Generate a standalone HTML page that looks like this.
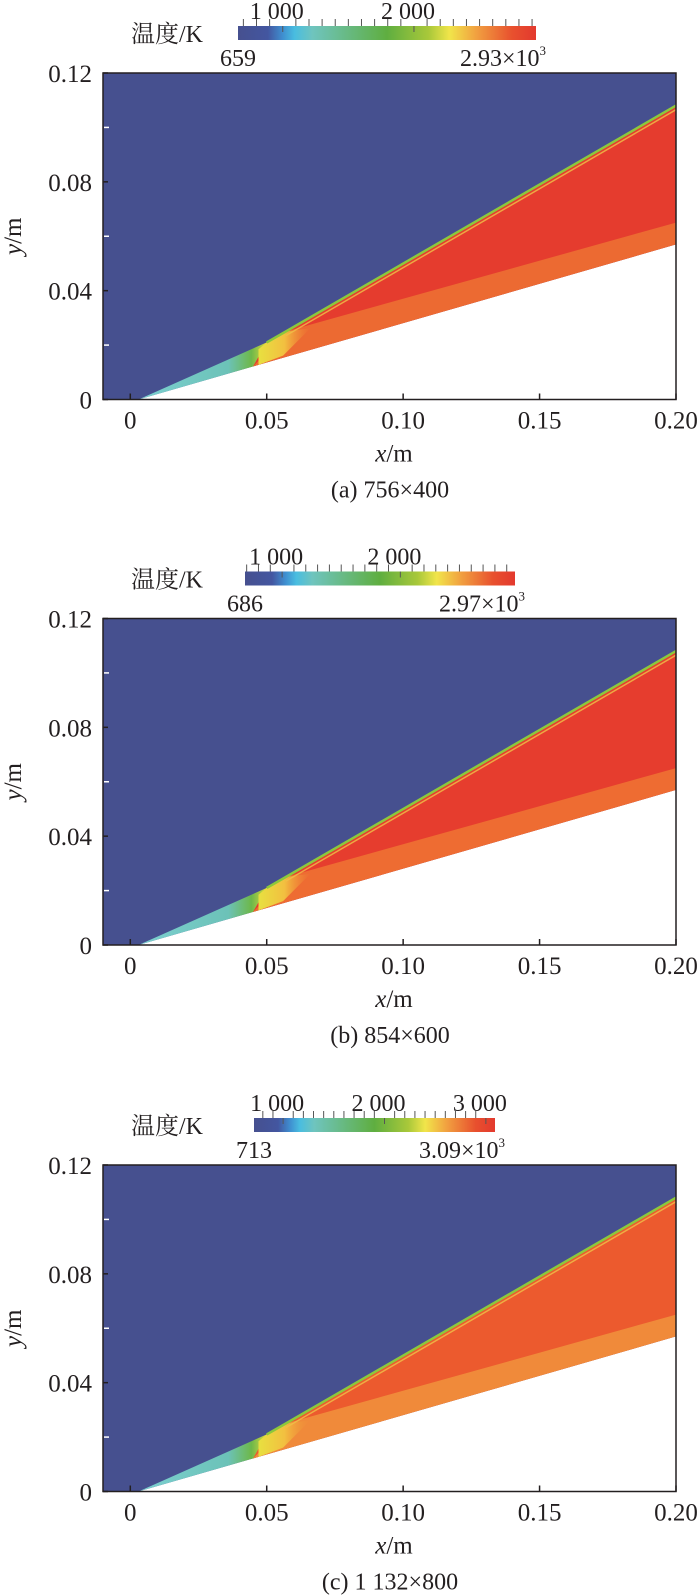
<!DOCTYPE html>
<html><head><meta charset="utf-8"><style>
html,body{margin:0;padding:0;background:#fff;}
svg{display:block;}
text{font-family:"Liberation Serif","Noto Serif CJK SC",serif;fill:#231f20;}
</style></head><body>
<svg id="fig" width="700" height="1596" viewBox="0 0 700 1596" xmlns="http://www.w3.org/2000/svg">
<defs>
<linearGradient id="cbar" x1="0" x2="1" y1="0" y2="0">
<stop offset="0" stop-color="#46508f"/><stop offset="0.1" stop-color="#4356a0"/>
<stop offset="0.15" stop-color="#3f8fd0"/><stop offset="0.19" stop-color="#49bde0"/>
<stop offset="0.25" stop-color="#6fc4be"/><stop offset="0.5" stop-color="#5fae40"/>
<stop offset="0.64" stop-color="#a9c83a"/><stop offset="0.71" stop-color="#f1e54a"/>
<stop offset="0.8" stop-color="#f1a040"/><stop offset="0.92" stop-color="#e8502e"/>
<stop offset="1" stop-color="#e3392e"/></linearGradient>
<linearGradient id="cyanG" x1="0" x2="1" y1="0" y2="0">
<stop offset="0" stop-color="#7cd0d0"/><stop offset="0.7" stop-color="#6cc2b8"/><stop offset="0.88" stop-color="#6db84a"/><stop offset="1" stop-color="#d8d840"/></linearGradient>
<linearGradient id="ignG" x1="0" x2="1" y1="0" y2="0">
<stop offset="0" stop-color="#e8e040"/><stop offset="0.5" stop-color="#f2c040"/><stop offset="1" stop-color="#f09038" stop-opacity="0"/></linearGradient>
</defs>
</svg>
<script>
const xTicks=[0,0.05,0.10,0.15,0.20];
const xTickLabels=["0","0.05","0.10","0.15","0.20"];
const yTicks=[0,0.04,0.08,0.12];
const yTickLabels=["0","0.04","0.08","0.12"];
const yMinorTicks=[0.02,0.06,0.10];
const panelTops=[73,618.5,1165];
const captions=["(a) 756×400","(b) 854×600","(c) 1 132×800"];
const tMin=[659,686,713];
const tMax=[2930,2970,3090];
const tMaxLabels=["2.93×10","2.97×10","3.09×10"];
const cbarLeft=[238,245,254];
const cbarRight=[536,515,495];
const cbarMajor=[[1000,2000],[1000,2000],[1000,2000,3000]];
const cbarMajorLabels=[["1 000","2 000"],["1 000","2 000"],["1 000","2 000","3 000"]];
const redColors=["#e53c2e","#e63d2e","#ec5a2e"];
const orangeColors=["#ec6a32","#ee6c32","#f08a3a"];
// flow geometry (data coords, m)
const wallPts=[[0.003,0],[0.2,0.057]];
const shockPts=[[0.003,0],[0.05,0.021],[0.057,0.025],[0.2,0.108]];
const slipPts=[[0.057,0.025],[0.2,0.065]];

const NS="http://www.w3.org/2000/svg";
const svg=document.getElementById('fig');
const X0=103,X1=676,H=326.5;
function sx(x){return X0+(x+0.01)/(0.21)*(X1-X0);}
function mk(tag,attrs,parent){const e=document.createElementNS(NS,tag);for(const k in attrs)e.setAttribute(k,attrs[k]);(parent||svg).appendChild(e);return e;}
function txt(s,x,y,size,anchor,parent){const t=mk('text',{x:x,y:y,'font-size':size,'text-anchor':anchor||'middle'},parent);t.textContent=s;return t;}

panelTops.forEach((top,i)=>{
  const bot=top+H;
  const sy=v=>bot-v/0.12*H;
  const P=(x,y)=>sx(x).toFixed(1)+","+sy(y).toFixed(1);
  const g=mk('g',{});
  
  
  const bg=mk('rect',{x:X0,y:top,width:X1-X0,height:H,fill:'#46508f'},g);
  
  
  const wallAt=x=>wallPts[0][1]+(x-wallPts[0][0])*(wallPts[1][1]-wallPts[0][1])/(wallPts[1][0]-wallPts[0][0]);
  const wb=mk('polygon',{points:[P(wallPts[0][0],0),P(wallPts[1][0],wallPts[1][1]),P(0.2,0)].join(' '),fill:'#fff'},g);
  
  
  const cy=mk('polygon',{points:[P(shockPts[0][0],0),P(shockPts[1][0],shockPts[1][1]),P(0.047,wallAt(0.047))].join(' '),fill:'url(#cyanG)'},g);
  
  
  const rd=mk('polygon',{points:[P(0.05,0.021),P(shockPts[2][0],shockPts[2][1]),P(0.2,0.108),P(0.2,wallAt(0.2)),P(0.045,wallAt(0.045))].join(' '),fill:redColors[i]},g);
  
  
  const ob=mk('polygon',{points:[P(slipPts[0][0],slipPts[0][1]),P(slipPts[1][0],slipPts[1][1]),P(0.2,wallAt(0.2)),P(0.045,wallAt(0.045))].join(' '),fill:orangeColors[i]},g);
  
  
  const yz=mk('polygon',{points:[P(0.047,0.0185),P(0.05,0.021),P(0.057,0.025),P(0.066,0.0262),P(0.056,wallAt(0.056)+0.0008),P(0.047,wallAt(0.047))].join(' '),fill:'url(#ignG)'},g);
  
  
  const sl=mk('polyline',{points:shockPts.slice(1).map(p=>P(p[0],p[1])).join(' '),fill:'none',stroke:'#8cc83c','stroke-width':2.5},g);
  
  
  const sl2=mk('polyline',{points:shockPts.slice(2).map(p=>P(p[0],p[1]-0.0015)).join(' '),fill:'none',stroke:'#f0c048','stroke-width':1.5,opacity:0.8},g);
  
  
  const fr=mk('rect',{x:X0,y:top,width:X1-X0,height:H,fill:'none',stroke:'#231f20','stroke-width':1.5},g);
  
  
  xTicks.forEach((v,j)=>{
    const t=mk('line',{x1:sx(v),x2:sx(v),y1:bot,y2:bot-6,stroke:'#231f20','stroke-width':1.5},g);
    
    
    const l=txt(xTickLabels[j],sx(v),bot+29,25,'middle',g);
    
    
  });
  yTicks.forEach((v,j)=>{
    const t=mk('line',{x1:X0,x2:X0+5,y1:sy(v),y2:sy(v),stroke:'#231f20','stroke-width':1.5},g);
    
    
    const l=txt(yTickLabels[j],92,sy(v)+9,25,'end',g);
    
    
  });
  yMinorTicks.forEach(v=>{
    const t=mk('line',{x1:X0+1,x2:X0+6,y1:sy(v),y2:sy(v),stroke:'#fff','stroke-width':1.5},g);
    
    
  });
  const xl=mk('text',{x:394,y:bot+62,'font-size':25,'text-anchor':'middle'},g);
  xl.innerHTML='<tspan font-style="italic">x</tspan>/m';
  
  
  const yl=mk('text',{x:0,y:0,'font-size':25,'text-anchor':'middle',transform:`translate(21,${top+H/2}) rotate(-90)`},g);
  yl.innerHTML='<tspan font-style="italic">y</tspan>/m';
  
  
  const cap=txt(captions[i],390,bot+98,24,'middle',g);
  
  
  const cbTop=top-47,cbH=14,L=cbarLeft[i],R=cbarRight[i];
  const cx=T=>L+(T-tMin[i])/(tMax[i]-tMin[i])*(R-L);
  const cb=mk('rect',{x:L,y:cbTop,width:R-L,height:cbH,fill:'url(#cbar)'},g);
  
  
  for(let T=Math.ceil(tMin[i]/100)*100;T<=tMax[i];T+=100){
    const maj=T%1000===0;
    const t=mk('line',{x1:cx(T),x2:cx(T),y1:cbTop-(maj?0:7),y2:cbTop+(maj?6:0),stroke:'#555','stroke-width':1},g);
    
    
  }
  cbarMajor[i].forEach((T,j)=>{
    const l=txt(cbarMajorLabels[i][j],cx(T)-6,cbTop-7,24,'middle',g);
    
    
  });
  const mn=txt(String(tMin[i]),L,cbTop+cbH+26,24,'middle',g);
  
  
  const mx=mk('text',{x:R+10,y:cbTop+cbH+26,'font-size':24,'text-anchor':'end'},g);
  mx.innerHTML=tMaxLabels[i]+'<tspan font-size="13" dy="-11">3</tspan>';
  
  
  const ct=txt('温度/K',167,cbTop+16,24,'middle',g);
  
  
});
</script>
</body></html>
